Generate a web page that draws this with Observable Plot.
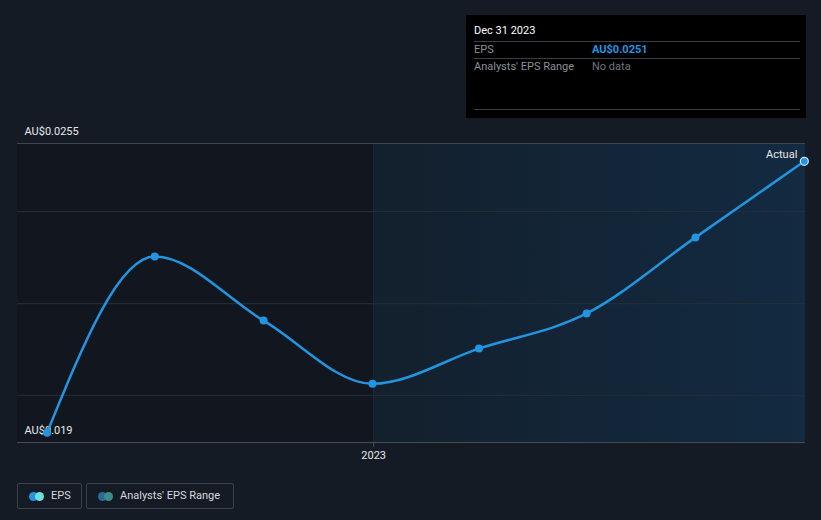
<!DOCTYPE html>
<html>
<head>
<meta charset="utf-8">
<script src="https://cdn.jsdelivr.net/npm/d3@7"></script>
<script src="https://cdn.jsdelivr.net/npm/@observablehq/plot@0.6"></script>
<style>
  html, body { margin: 0; padding: 0; background: #151b25; }
  body { width: 821px; height: 520px; position: relative; overflow: hidden; font-family: Roboto, "Noto Sans", sans-serif; }
  #chart { position: absolute; left: 0; top: 0; }
  .tip { position: absolute; left: 466px; top: 15px; width: 340px; height: 103px; background: #000; color: #fff; font-size: 11px; }
  .tip .row { position: absolute; left: 8px; right: 6px; border-top: 1px solid #3a3f47; }
  .tip .t { position: absolute; }
  .legend { position: absolute; top: 483px; height: 26px; border: 1px solid #3c424b; border-radius: 2px; color: #d5d8dc; font-size: 11px; box-sizing: border-box; }
  .legend .sw { position: absolute; top: 8px; width: 9px; height: 9px; border-radius: 50%; }
  .legend .lab { position: absolute; top: 5px; }
</style>
</head>
<body>
<div id="chart"></div>
<div class="tip">
  <div class="t" style="left:8px;top:9px;">Dec 31 2023</div>
  <div class="row" style="top:26px;"></div>
  <div class="t" style="left:8px;top:28px;color:#8a8f97;">EPS</div>
  <div class="t" style="left:126px;top:28px;color:#2394e0;font-weight:bold;">AU$0.0251</div>
  <div class="row" style="top:43px;"></div>
  <div class="t" style="left:8px;top:45px;color:#8a8f97;">Analysts' EPS Range</div>
  <div class="t" style="left:126px;top:45px;color:#6f747b;">No data</div>
  <div class="row" style="top:94px;"></div>
</div>
<div class="legend" style="left:17px;width:65px;">
  <div class="sw" style="left:11px;background:#2394e0;"></div>
  <div class="sw" style="left:17px;background:#6fe0d8;"></div>
  <div class="lab" style="left:33px;">EPS</div>
</div>
<div class="legend" style="left:86px;width:148px;">
  <div class="sw" style="left:11px;background:#2a6a9a;"></div>
  <div class="sw" style="left:17px;background:#3d8a88;"></div>
  <div class="lab" style="left:33px;">Analysts' EPS Range</div>
</div>
<script>
// Data
const dates = ["2022-03-31","2022-06-30","2022-09-30","2022-12-31","2023-03-31","2023-06-30","2023-09-30","2023-12-31"];
const eps = [0.0190, 0.02296, 0.02152, 0.0201, 0.02089, 0.02168, 0.02339, 0.0251];
const xDomain = ["2022-03-06", "2024-01-01"];
const yDomain = [0.01878, 0.0255];
const yLabelText = ["AU$0.0255", "AU$0.019"];
const gridValues = [0.02397, 0.0219, 0.01984];
const boundary = "2023-01-01";
const xTicks = ["2023-01-01"];

const parse = d3.utcParse("%Y-%m-%d");
const data = dates.map((d, i) => ({date: parse(d), eps: eps[i]}));
const last = data[data.length - 1];
const x0 = parse(xDomain[0]), x1 = parse(xDomain[1]), xb = parse(boundary);
const tickDates = xTicks.map(parse);
const yLabelPos = [yDomain[1], yDomain[0]];

const plot = Plot.plot({
  width: 821,
  height: 470,
  marginLeft: 17,
  marginRight: 16,
  marginTop: 143,
  marginBottom: 28,
  style: {background: "transparent", color: "#e6e8ea", fontFamily: "Roboto, sans-serif", fontSize: "11px"},
  x: {type: "utc", domain: [x0, x1], axis: null},
  y: {type: "linear", domain: yDomain, axis: null},
  marks: [
    Plot.rect([{a: x0, b: xb, lo: yDomain[0], hi: yDomain[1]}], {x1: "a", x2: "b", y1: "lo", y2: "hi", fill: "#12171f"}),
    Plot.rect([{a: xb, b: x1, lo: yDomain[0], hi: yDomain[1]}], {x1: "a", x2: "b", y1: "lo", y2: "hi", fill: "url(#fgrad)"}),
    Plot.ruleX([xb], {y1: yDomain[0], y2: yDomain[1], stroke: "#1d2835", strokeWidth: 1}),
    Plot.ruleY(gridValues, {stroke: "#262e39", strokeWidth: 1}),
    Plot.ruleY([yDomain[1]], {stroke: "#3f454e", strokeWidth: 1}),
    Plot.ruleY([yDomain[0]], {stroke: "#474d56", strokeWidth: 1}),
    Plot.ruleX(tickDates, {y1: yDomain[0], y2: yDomain[0], insetBottom: -5, stroke: "#474d56"}),
    Plot.text(tickDates, {x: d => d, y: yDomain[0], dy: 13, text: d => d3.utcFormat("%Y")(d), fill: "#e6e8ea", fontSize: 11}),
    Plot.text(yLabelText, {x: x0, y: (d, i) => yLabelPos[i], text: d => d, textAnchor: "start", dx: 7, dy: -12, fill: "#e6e8ea", fontSize: 11}),
    Plot.line(data, {x: "date", y: "eps", stroke: "#2394e0", strokeWidth: 2.5, curve: "monotone-x"}),
    Plot.dot(data.slice(0, -1), {x: "date", y: "eps", r: 4, fill: "#2394e0"}),
    Plot.dot([last], {x: "date", y: "eps", r: 4, fill: "#2394e0", stroke: "#cfe6f7", strokeWidth: 1.2}),
    Plot.text([last], {x: "date", y: "eps", text: () => "Actual", textAnchor: "end", dx: -7, dy: -7, fill: "#e6e8ea", fontSize: 11})
  ]
});

const defs = d3.select(plot).insert("defs", ":first-child");
const g = defs.append("linearGradient").attr("id", "fgrad").attr("x1", "0").attr("x2", "1").attr("y1", "0").attr("y2", "0");
g.append("stop").attr("offset", "0%").attr("stop-color", "#13202d");
g.append("stop").attr("offset", "100%").attr("stop-color", "#132a41");

document.getElementById("chart").appendChild(plot);
</script>
</body>
</html>
